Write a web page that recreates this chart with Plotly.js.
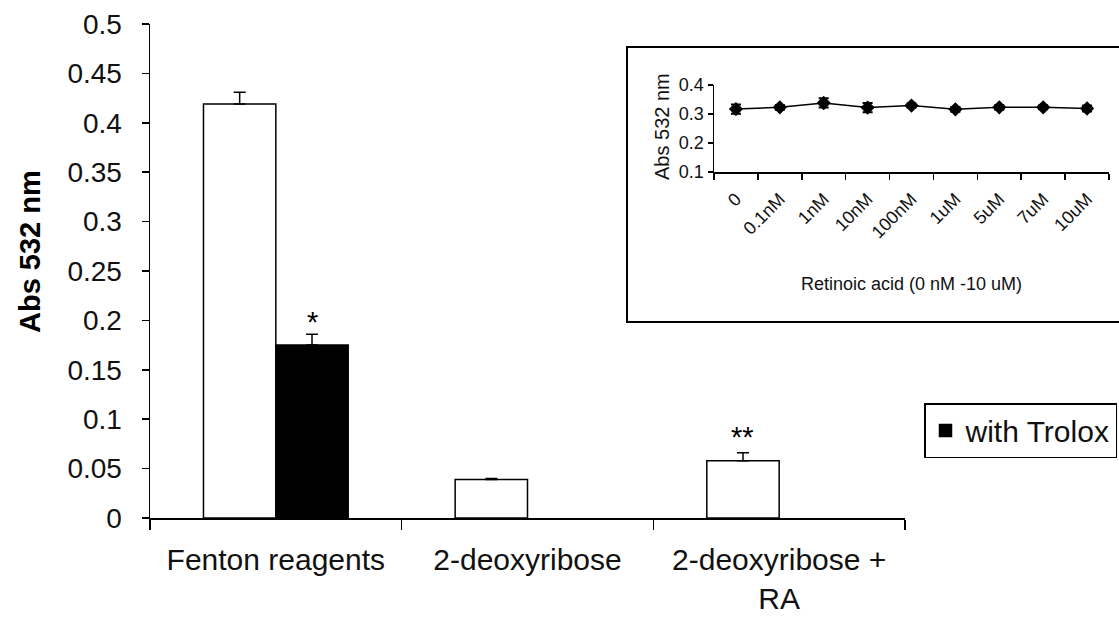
<!DOCTYPE html>
<html>
<head>
<meta charset="utf-8">
<script src="https://cdn.plot.ly/plotly-3.0.1.min.js"></script>
<style>html,body{margin:0;padding:0;background:#fff;}#chart{width:1119px;height:618px;}</style>
</head>
<body>
<div id="chart"></div>
<script>
// ---- Main chart data ----
var categories = ['Fenton reagents', '2-deoxyribose', '2-deoxyribose +<br>RA'];
var baseValues = [0.419, 0.039, 0.058];
var baseErrors = [0.012, 0.001, 0.008];
var troloxValues = [0.175, null, null];
var troloxErrors = [0.011, 0, 0];
var troloxName = 'with Trolox';
var baseSig = ['', '', '**'];
var troloxSig = ['*', '', ''];
var yTickVals = [0, 0.05, 0.1, 0.15, 0.2, 0.25, 0.3, 0.35, 0.4, 0.45, 0.5];
var yTickText = ['0', '0.05', '0.1', '0.15', '0.2', '0.25', '0.3', '0.35', '0.4', '0.45', '0.5'];

// ---- Inset data ----
var raLabels = ['0', '0.1nM', '1nM', '10nM', '100nM', '1uM', '5uM', '7uM', '10uM'];
var raValues = [0.317, 0.323, 0.338, 0.322, 0.329, 0.316, 0.323, 0.323, 0.319];
var raErrors = [0.016, 0.008, 0.016, 0.016, 0.007, 0.008, 0.008, 0.007, 0.010];
var insetTickVals = [0.1, 0.2, 0.3, 0.4];
var insetTickText = ['0.1', '0.2', '0.3', '0.4'];

var FONT = 'Liberation Sans, Arial, sans-serif';
var W = 1119, H = 618;
var bargap = 0.425;
var barOffset = (1 - bargap) / 4;

var traces = [
  {
    type: 'bar', x: categories, y: baseValues, showlegend: false,
    marker: {color: '#ffffff', line: {color: '#000', width: 1.5}},
    error_y: {type: 'data', array: baseErrors, arrayminus: baseErrors.map(function(){return 0;}),
              symmetric: false, color: '#000', thickness: 1.5, width: 6},
    xaxis: 'x', yaxis: 'y'
  },
  {
    type: 'bar', x: categories, y: troloxValues, name: troloxName,
    marker: {color: '#000000', line: {color: '#000', width: 1.5}},
    error_y: {type: 'data', array: troloxErrors, arrayminus: troloxErrors.map(function(){return 0;}),
              symmetric: false, color: '#000', thickness: 1.5, width: 6},
    xaxis: 'x', yaxis: 'y'
  },
  {
    type: 'scatter', mode: 'lines+markers', x: raLabels, y: raValues, showlegend: false,
    line: {color: '#000', width: 1.5},
    marker: {symbol: 'diamond', size: 11, color: '#000'},
    error_y: {type: 'data', array: raErrors, color: '#000', thickness: 2, width: 5},
    xaxis: 'x2', yaxis: 'y2'
  }
];

var annotations = [];
for (var i = 0; i < categories.length; i++) {
  if (baseSig[i]) {
    annotations.push({xref: 'x', yref: 'y', x: i - barOffset, y: baseValues[i] + baseErrors[i],
      text: baseSig[i], showarrow: false, yanchor: 'bottom', yshift: -2,
      font: {family: FONT, size: 29, color: '#000'}});
  }
  if (troloxSig[i]) {
    annotations.push({xref: 'x', yref: 'y', x: i + barOffset, y: troloxValues[i] + troloxErrors[i],
      text: troloxSig[i], showarrow: false, yanchor: 'bottom', yshift: -6,
      font: {family: FONT, size: 29, color: '#000'}});
  }
}
annotations.push({xref: 'paper', yref: 'paper', x: 30 / W, y: 1 - 252 / H, text: '<b>Abs 532 nm</b>',
  textangle: -90, showarrow: false, xanchor: 'center', yanchor: 'middle',
  font: {family: FONT, size: 29, color: '#000'}});
annotations.push({xref: 'paper', yref: 'paper', x: 911 / W, y: 1 - 284 / H, text: 'Retinoic acid (0 nM -10 uM)',
  showarrow: false, xanchor: 'center', yanchor: 'middle',
  font: {family: FONT, size: 18, color: '#111'}});
annotations.push({xref: 'paper', yref: 'paper', x: 662 / W, y: 1 - 127 / H, text: 'Abs 532 nm',
  textangle: -90, showarrow: false, xanchor: 'center', yanchor: 'middle',
  font: {family: FONT, size: 20, color: '#111'}});

var layout = {
  width: W, height: H,
  margin: {l: 0, r: 0, t: 0, b: 0, pad: 0},
  paper_bgcolor: '#ffffff', plot_bgcolor: 'rgba(0,0,0,0)',
  barmode: 'group', bargap: bargap, bargroupgap: 0,
  showlegend: true,
  legend: {x: 924 / W, y: 1 - 403 / H, xanchor: 'left', yanchor: 'top',
    bordercolor: '#000', borderwidth: 1.5, bgcolor: '#fff',
    font: {family: FONT, size: 30, color: '#111'}},
  xaxis: {
    domain: [150 / W, 905 / W], type: 'category', range: [-0.5, 2.5], tickson: 'boundaries',
    ticks: 'outside', ticklen: 10, tickwidth: 1.5, tickcolor: '#000',
    showline: true, linecolor: '#000', linewidth: 1.5, showgrid: false, zeroline: false,
    ticklabelstandoff: 14,
    tickfont: {family: FONT, size: 30, color: '#111'}, fixedrange: true
  },
  yaxis: {
    domain: [1 - 518 / H, 1 - 24 / H], range: [0, 0.5],
    tickvals: yTickVals, ticktext: yTickText,
    ticks: 'outside', ticklen: 7, tickwidth: 1.5, tickcolor: '#000',
    showline: true, linecolor: '#000', linewidth: 1.5, showgrid: false, zeroline: false,
    ticklabelstandoff: 14,
    tickfont: {family: FONT, size: 28, color: '#111'}, fixedrange: true
  },
  xaxis2: {
    domain: [714 / W, 1109 / W], anchor: 'y2', type: 'category', range: [-0.5, 8.5], tickson: 'boundaries',
    ticks: 'outside', ticklen: 6, tickwidth: 1.5, tickcolor: '#000',
    showline: true, linecolor: '#000', linewidth: 1.5, showgrid: false, zeroline: false,
    tickangle: -45, ticklabelstandoff: 8,
    tickfont: {family: FONT, size: 18, color: '#111'}, fixedrange: true
  },
  yaxis2: {
    domain: [1 - 172 / H, 1 - 85 / H], anchor: 'x2', range: [0.1, 0.4],
    tickvals: insetTickVals, ticktext: insetTickText,
    ticks: 'outside', ticklen: 5, tickwidth: 1.5, tickcolor: '#000',
    showline: true, linecolor: '#000', linewidth: 1.5, showgrid: false, zeroline: false,
    tickfont: {family: FONT, size: 18, color: '#111'}, fixedrange: true
  },
  shapes: [
    {type: 'rect', xref: 'paper', yref: 'paper', x0: 627 / W, x1: 1.01, y0: 1 - 322 / H, y1: 1 - 47 / H,
     line: {color: '#000', width: 2}, fillcolor: 'rgba(0,0,0,0)', layer: 'above'}
  ],
  annotations: annotations
};

Plotly.newPlot('chart', traces, layout, {displayModeBar: false, staticPlot: true});
</script>
</body>
</html>
